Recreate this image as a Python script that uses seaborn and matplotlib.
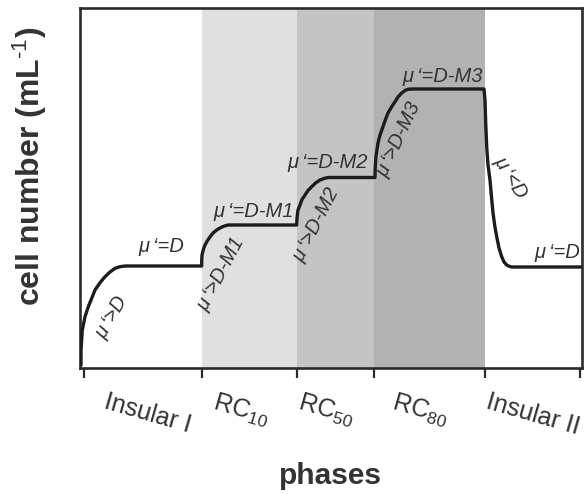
import numpy as np
import pandas as pd
import matplotlib
matplotlib.use("Agg")
import matplotlib.pyplot as plt
import seaborn as sns

# ---------------- data ----------------
phase_labels = ["Insular I", r"RC$_{\mathit{10}}$", r"RC$_{\mathit{50}}$",
                r"RC$_{\mathit{80}}$", "Insular II"]
phase_bounds = [3.5, 121.5, 216.5, 294.5, 405.0, 500.0]
shade_colors = [None, "#e0e0e0", "#c4c4c4", "#b2b2b2", None]

curve_x = [1, 1, 2.3, 5, 8.3, 11.7, 15, 20, 25, 30, 35, 40, 45,
           121.7, 121.7, 122, 123.5, 125, 127.5, 130, 133, 136.7, 140, 143, 148, 153,
           216.7, 217, 218, 220, 222, 225, 228, 231.7, 235.5, 240, 244, 248,
           295, 295.2, 296, 298, 300, 303, 305.5, 308, 311.5, 315, 318, 321.7, 325, 328, 332,
           404, 405, 405.7, 406.7, 408, 410, 411.5, 413, 414.8, 416.7, 419, 421.7, 424,
           426.7, 429, 431.7, 440, 501.5]
curve_y = [3, 18, 38, 51.3, 61.3, 69.7, 78, 85.3, 91.3, 96, 99.7, 101.3, 102,
           102, 107, 113, 119, 123, 127.5, 131, 135, 138, 140, 141.5, 143, 143,
           143, 150, 158, 163, 168.5, 173, 177.5, 181.3, 185, 188, 189.5, 190.5,
           190.5, 200, 212, 225, 233, 241.3, 248.5, 255, 261, 266.3, 271, 275, 277.5, 278.7, 279,
           279, 268, 245, 221.3, 203, 188, 171, 155, 142, 131.3, 120, 111.3, 106,
           103, 101.8, 101, 101, 101]

ann_text = ["μ\u2009‘>D", "μ\u2009‘=D", "μ\u2009‘>D-M1", "μ\u2009‘=D-M1",
            "μ\u2009‘>D-M2", "μ\u2009‘=D-M2", "μ\u2009‘>D-M3", "μ\u2009‘=D-M3",
            "μ\u2009‘<D", "μ\u2009‘=D"]
ann_x = [32, 81, 141, 174, 236, 248, 319, 363, 431, 477]
ann_y = [51, 121, 94, 156, 143, 205, 228, 291, 191, 116]
ann_rot = [60, 0, 62, 0, 63, 0, 65, 0, -58, 0]

# layout: small horizontal nudges (in x units) for tick labels
label_nudge = [5, -8, -9, -10, 1]

# ---------------- style ----------------
sns.set_style("white")
plt.rcParams["font.family"] = ["Liberation Sans", "DejaVu Sans"]
plt.rcParams["mathtext.fontset"] = "custom"
plt.rcParams["mathtext.rm"] = "Liberation Sans"
plt.rcParams["mathtext.it"] = "Liberation Sans:italic"
plt.rcParams["mathtext.bf"] = "Liberation Sans:bold"

txt_col = "#333333"
fig = plt.figure(figsize=(5.88, 4.94), dpi=100)
ax = fig.add_axes([79.5 / 588, (494 - 368) / 494, (582 - 79.5) / 588, 360 / 494])

for i, c in enumerate(shade_colors):
    if c is not None:
        ax.axvspan(phase_bounds[i], phase_bounds[i + 1], color=c, lw=0, zorder=0)

df = pd.DataFrame({"x": curve_x, "y": curve_y})
sns.lineplot(data=df, x="x", y="y", sort=False, estimator=None, ax=ax,
             color="#1c1c1c", lw=2.4, zorder=3)
ax.lines[-1].set_solid_joinstyle("round")
ax.lines[-1].set_solid_capstyle("round")

for t, x, y, r in zip(ann_text, ann_x, ann_y, ann_rot):
    ax.text(x, y, t, rotation=r, ha="center", va="center", fontsize=14.5,
            style="italic", color=txt_col, rotation_mode="anchor", zorder=4)

ax.set_xlim(-0.5, 502)
ax.set_ylim(0, 360)

for s in ax.spines.values():
    s.set_visible(True)
    s.set_linewidth(1.9)
    s.set_color("#2b2b2b")

ax.set_yticks([])
ax.set_xticks(phase_bounds)
ax.set_xticklabels([])
mids = [(phase_bounds[i] + phase_bounds[i + 1]) / 2 + label_nudge[i]
        for i in range(len(phase_labels))]
ax.set_xticks(mids, minor=True)
ax.set_xticklabels(phase_labels, minor=True, rotation=-16, fontsize=18, color=txt_col)
ax.tick_params(axis="x", which="major", direction="out", length=7, width=1.6,
               color="#2b2b2b", bottom=True)
ax.tick_params(axis="x", which="minor", length=0, pad=16)

ax.set_xlabel("phases", fontsize=21.5, fontweight="bold", color=txt_col)
ax.xaxis.set_label_coords(0.5, -0.262)
ax.set_ylabel(r"cell number (mL$^{\text{-1}}$)", fontsize=23, fontweight="bold",
              color=txt_col)
ax.yaxis.set_label_coords(-0.06, 0.56)

fig.savefig("out.png", dpi=100)
